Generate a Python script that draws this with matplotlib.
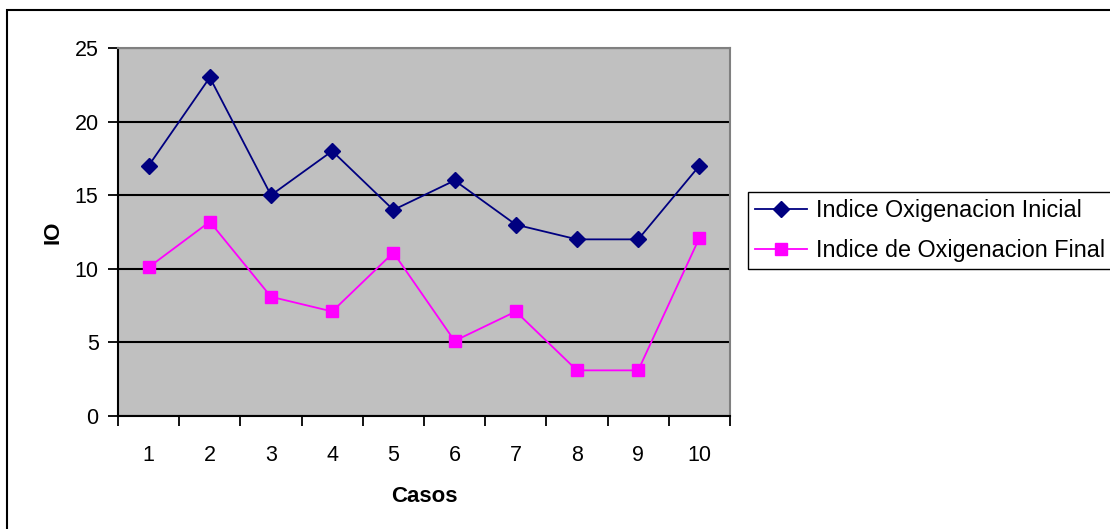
import matplotlib.pyplot as plt
from matplotlib.patches import Rectangle

casos = [1, 2, 3, 4, 5, 6, 7, 8, 9, 10]
io_inicial = [17, 23, 15, 18, 14, 16, 13, 12, 12, 17]
io_final = [10.1, 13.2, 8.1, 7.1, 11.1, 5.1, 7.1, 3.1, 3.1, 12.1]

plt.rcParams['font.family'] = ['Liberation Sans', 'DejaVu Sans']

W, H = 1110, 529
fig = plt.figure(figsize=(W / 100, H / 100), dpi=100)
ax = fig.add_axes([118 / W, 1 - 416 / H, (730 - 118) / W, (416 - 48) / H])

# outer chart border
fig.patches.append(Rectangle((7 / W, -0.05), 1.2, 1 - 10 / H + 0.05, transform=fig.transFigure,
                             fill=False, edgecolor='black', linewidth=1.5))

ax.set_facecolor('#C0C0C0')
ax.plot(casos, io_inicial, color='#000080', marker='D', markersize=8.5, linewidth=1.3,
        label='Indice Oxigenacion Inicial', clip_on=False)
ax.plot(casos, io_final, color='#FF00FF', marker='s', markersize=8.5, linewidth=1.3,
        label='Indice de Oxigenacion Final', clip_on=False)

ax.set_xlim(0.5, 10.5)
ax.set_ylim(0, 25)
ax.set_yticks([0, 5, 10, 15, 20, 25])
ax.yaxis.grid(True, color='black', linewidth=1.5)
ax.set_axisbelow(True)

ax.set_xticks([i + 0.5 for i in range(0, 11)])
ax.set_xticklabels([])
ax.set_xticks(casos, minor=True)
ax.set_xticklabels([str(c) for c in casos], minor=True)
ax.tick_params(axis='x', which='major', length=7, width=1.3, direction='out')
ax.tick_params(axis='x', which='minor', length=0, pad=21, labelsize=15.5)
ax.tick_params(axis='y', length=7, width=1.3, direction='out', pad=7, labelsize=15.5)

for s in ['left', 'bottom']:
    ax.spines[s].set_color('black')
    ax.spines[s].set_linewidth(1.5)
for s in ['top', 'right']:
    ax.spines[s].set_color('#808080')
    ax.spines[s].set_linewidth(1.5)

ax.set_xlabel('Casos', fontsize=16, fontweight='bold', labelpad=14)
ax.set_ylabel('IO', fontsize=16, fontweight='bold', labelpad=8)

fig.legend(loc='upper left', bbox_to_anchor=(748 / W, 1 - 192 / H), borderaxespad=0,
           fontsize=16.8, frameon=True, fancybox=False, edgecolor='black', framealpha=1,
           handlelength=2.2, handletextpad=0.4, borderpad=0.32, labelspacing=0.7)

fig.savefig('out.png', dpi=100)
